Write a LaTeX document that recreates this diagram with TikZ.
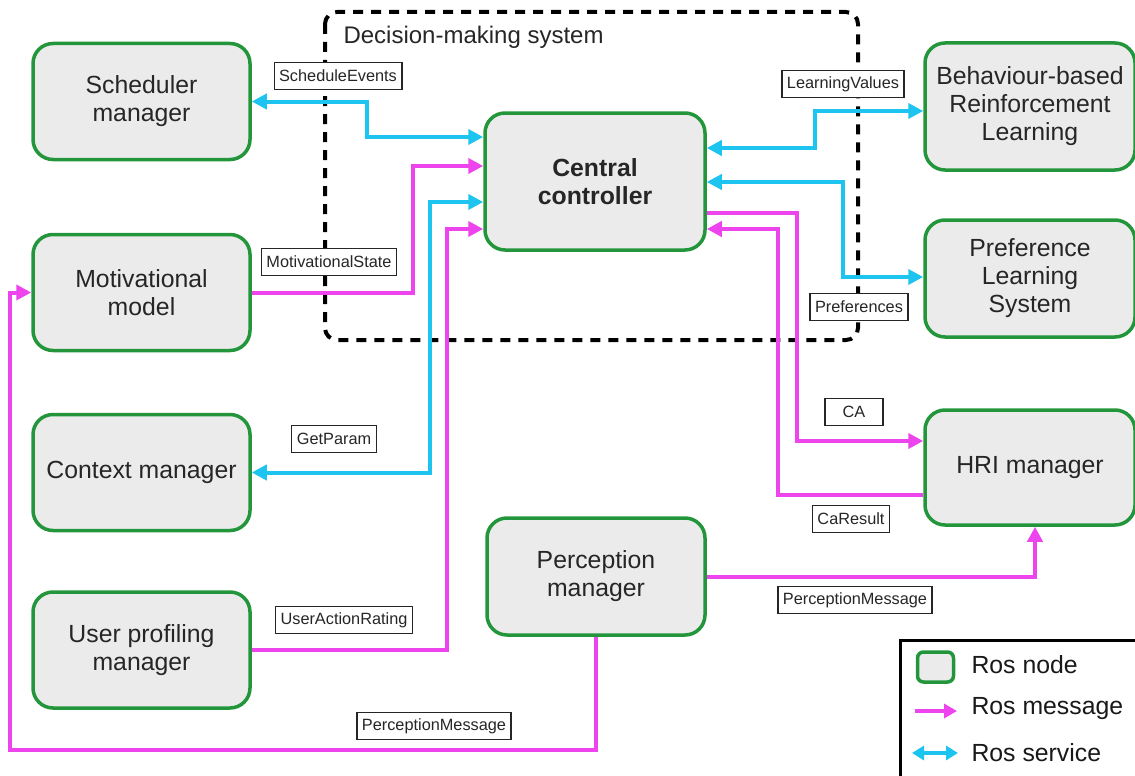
\documentclass[tikz,border=0pt]{standalone}
\usepackage{fontspec}
\setmainfont{Liberation Sans}
\usetikzlibrary{arrows.meta}
\definecolor{rosgreen}{HTML}{23963C}
\definecolor{rosfill}{HTML}{EBEBEB}
\definecolor{srvcol}{HTML}{1EC4F0}
\definecolor{msgcol}{HTML}{EE44EE}
\begin{document}
\begin{tikzpicture}[x=1pt,y=-1pt,
  rosnode/.style={draw=rosgreen, line width=3.5pt, fill=rosfill, rounded corners=20pt,
    minimum width=217pt, minimum height=116pt, align=center, text=black!85,
    font=\fontsize{24.8}{28}\selectfont},
  msg/.style={draw=msgcol, line width=4pt, -{Triangle[length=15pt,width=15pt]}},
  srv/.style={draw=srvcol, line width=4pt, {Triangle[length=15pt,width=15pt]}-{Triangle[length=15pt,width=15pt]}},
  lbl/.style={draw=black!85, line width=1.2pt, fill=white, inner xsep=5pt, inner ysep=4pt,
    minimum height=27pt, text=black!85, font=\fontsize{16.3}{18}\selectfont},
  legtext/.style={anchor=west, text=black!90, font=\fontsize{24.8}{28}\selectfont}]
\useasboundingbox (0,0) rectangle (1135,776);

% decision-making subsystem boundary
\draw[line width=4pt, dash pattern=on 10pt off 8pt, rounded corners=12pt] (325,12) rectangle (858,340);
\node[anchor=west, text=black!85, font=\fontsize{24}{28}\selectfont] (dms) at (340,37) {Decision-making system};

% ROS nodes
\node[rosnode] (sched) at (141.5,101.5) {Scheduler\\manager};
\node[rosnode] (mot) at (141.5,292.5) {Motivational\\model};
\node[rosnode] (ctx) at (141.5,472.5) {Context manager};
\node[rosnode] (usr) at (141.5,650) {User profiling\\manager};
\node[rosnode, minimum width=220pt, minimum height=137pt, font=\fontsize{24.8}{28}\selectfont\bfseries] (cc) at (595,181.5) {Central\\controller};
\node[rosnode, minimum width=218pt, minimum height=117pt] (per) at (596,576.5) {Perception\\manager};
\node[rosnode, minimum width=210pt, minimum height=127pt] (brl) at (1030,106.5) {Behaviour-based\\Reinforcement\\Learning};
\node[rosnode, minimum width=210pt, minimum height=117pt] (pls) at (1030,278.5) {Preference\\Learning\\System};
\node[rosnode, minimum width=210pt, minimum height=115pt] (hri) at (1030,467.5) {HRI manager};

% connectors
\draw[srv] (sched.east) -| (367,137) -- (cc.west |- 0,137);
\draw[msg] (mot.east) -| (413,166) -- (cc.west |- 0,166);
\draw[srv] (ctx.east) -| (430,202) -- (cc.west |- 0,202);
\draw[msg] (usr.east) -| (447,229) -- (cc.west |- 0,229);
\draw[srv] (cc.east |- 0,148) -| (815,111) -- (brl.west |- 0,111);
\draw[srv] (cc.east |- 0,182) -| (843,277) -- (pls.west |- 0,277);
\draw[msg] (cc.east |- 0,213) -| (797,441) -- (hri.west |- 0,441);
\draw[msg] (hri.west |- 0,495) -| (778,229) -- (cc.east |- 0,229);
\draw[msg] (per.east) -| ([xshift=5pt]hri.south);
\draw[msg] (per.south) |- (10,750) |- (mot.west);

% connector labels
\node[lbl] (l1) at (338,76) {ScheduleEvents};
\node[lbl] (l2) at (329,262) {MotivationalState};
\node[lbl] (l3) at (334,439) {GetParam};
\node[lbl] (l4) at (344,620) {UserActionRating};
\node[lbl] (l5) at (843,84) {LearningValues};
\node[lbl] (l6) at (859,307) {Preferences};
\node[lbl, minimum width=58pt] (l7) at (854,412) {CA};
\node[lbl] (l8) at (851,519) {CaResult};
\node[lbl] (l9) at (855,600) {PerceptionMessage};
\node[lbl] (l10) at (434,726) {PerceptionMessage};

% legend
\draw[line width=3pt, fill=white] (900,640) rectangle (1145,790);
\node[draw=rosgreen, line width=3.5pt, fill=rosfill, rounded corners=6pt, minimum width=36pt, minimum height=30pt] (lnode) at (935.5,667) {};
\node[legtext] (tnode) at (968,665) {Ros node};
\coordinate (ma) at (915,711);
\coordinate (mb) at (957,711);
\draw[draw=msgcol, line width=3.5pt, -{Triangle[length=13pt,width=14pt]}] (ma) -- (mb);
\node[legtext] (tmsg) at (968,709) {Ros message};
\coordinate (sa) at (912,753);
\coordinate (sb) at (958,753);
\draw[draw=srvcol, line width=3.5pt, {Triangle[length=12pt,width=14pt]}-{Triangle[length=12pt,width=14pt]}] (sa) -- (sb);
\node[legtext] (tsrv) at (968,753) {Ros service};
\end{tikzpicture}
\end{document}
